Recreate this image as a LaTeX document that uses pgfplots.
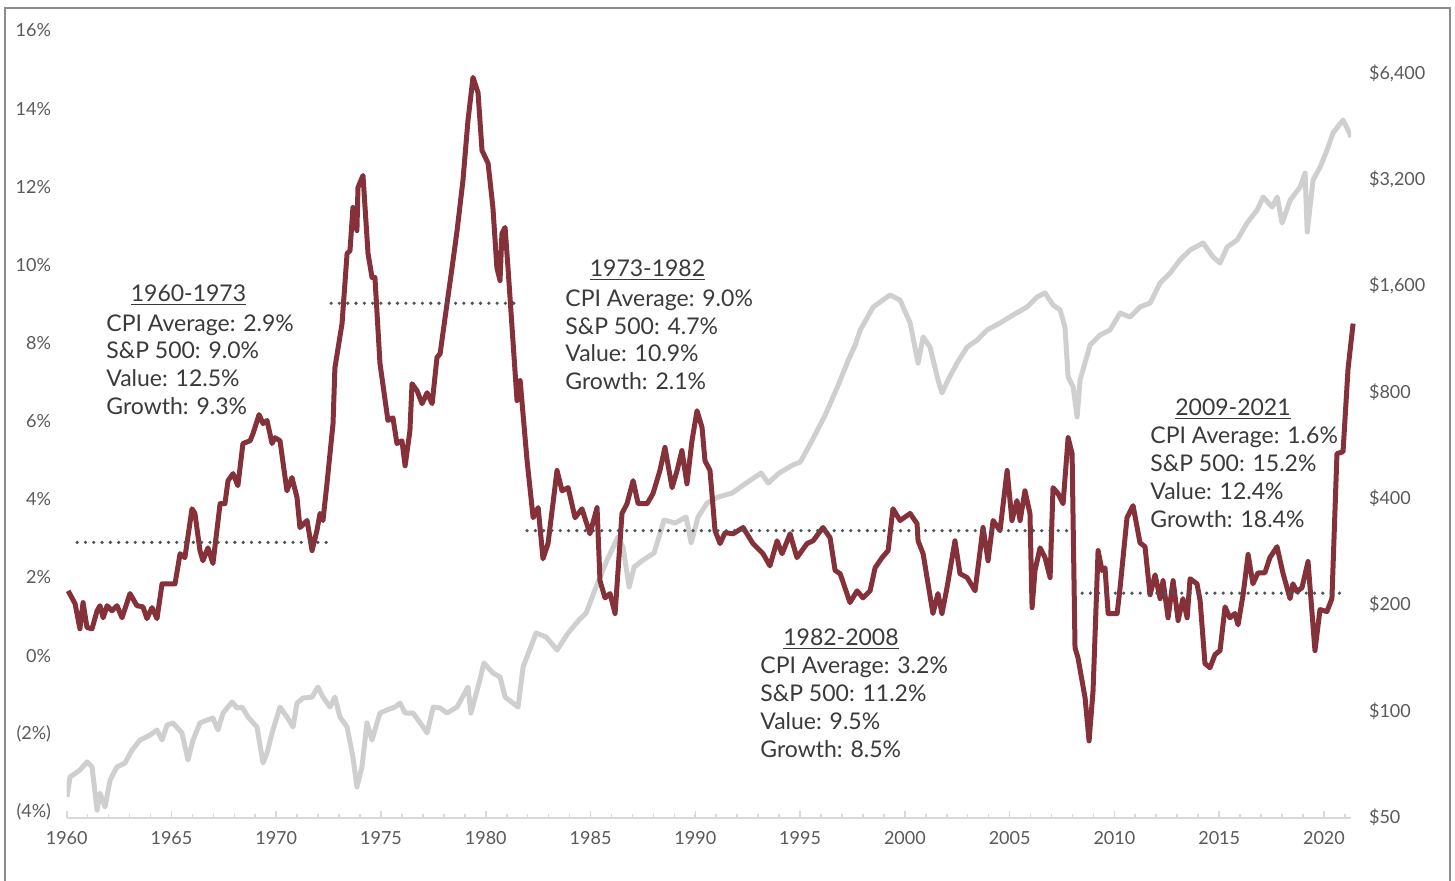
\documentclass[border=0pt]{standalone}
\usepackage{fontspec}
\setmainfont{Lato}
\usepackage{pgfplots}
\usepackage{pgfplotstable}
\pgfplotsset{compat=1.18}
\definecolor{cpired}{HTML}{84313A}
\definecolor{spgray}{HTML}{CFCFCF}
\definecolor{ticklab}{HTML}{595959}
\definecolor{axgray}{HTML}{D9D9D9}
\definecolor{annot}{HTML}{3A3A3A}
\definecolor{avgdot}{HTML}{4D535A}
\definecolor{frame}{HTML}{8C8C8C}

\pgfplotstableread{
x y
1960.07 1.66
1960.40 1.33
1960.63 0.69
1960.78 1.36
1960.97 0.72
1961.21 0.69
1961.45 1.15
1961.59 1.28
1961.74 0.97
1961.93 1.28
1962.16 1.15
1962.40 1.28
1962.64 0.97
1962.83 1.28
1963.02 1.59
1963.35 1.28
1963.64 1.25
1963.83 0.95
1964.07 1.23
1964.31 0.95
1964.55 1.84
1965.17 1.84
1965.41 2.61
1965.64 2.51
1965.98 3.76
1966.12 3.64
1966.36 2.69
1966.50 2.43
1966.74 2.76
1966.98 2.36
1967.32 3.89
1967.55 3.89
1967.70 4.48
1967.94 4.66
1968.17 4.35
1968.41 5.43
1968.75 5.50
1968.89 5.68
1969.18 6.17
1969.37 5.94
1969.56 6.02
1969.80 5.43
1969.94 5.58
1970.18 5.50
1970.51 4.22
1970.75 4.56
1970.99 4.05
1971.13 3.28
1971.47 3.46
1971.71 2.69
1971.94 3.20
1972.09 3.64
1972.23 3.46
1972.42 4.40
1972.71 5.94
1972.80 7.37
1973.14 8.50
1973.38 10.29
1973.52 10.37
1973.66 11.47
1973.85 10.88
1973.90 11.98
1974.14 12.29
1974.38 10.29
1974.57 9.68
1974.71 9.68
1974.95 7.48
1975.33 6.02
1975.57 6.09
1975.76 5.43
1976.00 5.50
1976.15 4.86
1976.38 5.76
1976.48 6.96
1976.72 6.78
1976.96 6.45
1977.20 6.73
1977.44 6.45
1977.67 7.63
1977.82 7.73
1978.15 9.01
1978.39 9.93
1978.63 10.88
1978.91 12.16
1979.15 13.70
1979.39 14.80
1979.63 14.41
1979.82 12.93
1980.11 12.60
1980.34 11.47
1980.53 9.93
1980.68 9.60
1980.77 10.80
1980.92 10.96
1981.06 9.93
1981.49 6.53
1981.64 7.04
1981.97 4.99
1982.26 3.53
1982.50 3.79
1982.73 2.48
1982.97 2.87
1983.40 4.74
1983.64 4.22
1983.93 4.30
1984.26 3.53
1984.59 3.76
1984.97 3.12
1985.31 3.79
1985.45 1.92
1985.69 1.48
1985.93 1.59
1986.17 1.08
1986.50 3.64
1986.74 3.89
1987.03 4.48
1987.27 3.89
1987.70 3.89
1987.98 4.15
1988.31 4.74
1988.55 5.33
1988.89 4.30
1989.13 4.74
1989.36 5.25
1989.60 4.40
1989.84 5.50
1990.08 6.27
1990.32 5.84
1990.46 4.99
1990.70 4.74
1990.94 3.20
1991.18 2.87
1991.42 3.15
1991.80 3.12
1992.28 3.28
1992.75 2.87
1993.23 2.61
1993.56 2.30
1993.90 2.94
1994.14 2.61
1994.52 3.12
1994.85 2.51
1995.33 2.87
1995.62 2.94
1996.09 3.28
1996.43 3.02
1996.67 2.18
1996.91 2.10
1997.38 1.36
1997.72 1.66
1998.00 1.48
1998.34 1.66
1998.58 2.25
1998.91 2.51
1999.20 2.69
1999.43 3.76
1999.77 3.46
2000.25 3.64
2000.58 3.38
2000.63 2.94
2000.87 2.61
2001.34 1.08
2001.58 1.59
2001.77 1.08
2002.01 1.74
2002.39 2.94
2002.63 2.10
2002.97 2.00
2003.35 1.66
2003.73 3.28
2003.97 2.43
2004.21 3.46
2004.54 3.20
2004.88 4.74
2005.11 3.46
2005.35 3.97
2005.50 3.46
2005.73 4.22
2005.97 3.64
2006.07 1.23
2006.21 2.18
2006.45 2.76
2006.69 2.51
2006.93 2.00
2007.07 4.30
2007.31 4.15
2007.55 3.89
2007.79 5.58
2007.98 5.17
2008.12 0.20
2008.26 -0.05
2008.60 -1.08
2008.79 -2.18
2008.98 -0.90
2009.22 2.69
2009.41 2.18
2009.55 2.25
2009.70 1.08
2010.13 1.08
2010.27 1.74
2010.60 3.53
2010.89 3.84
2011.22 2.89
2011.46 2.79
2011.70 1.56
2011.94 2.07
2012.18 1.46
2012.32 1.92
2012.56 0.97
2012.80 1.92
2013.04 0.90
2013.27 1.46
2013.47 0.97
2013.61 1.97
2013.94 1.84
2014.09 1.41
2014.32 -0.20
2014.56 -0.31
2014.80 0.03
2015.04 0.13
2015.28 1.25
2015.51 0.97
2015.75 1.08
2015.90 0.79
2016.14 1.56
2016.38 2.59
2016.61 1.84
2016.85 2.12
2017.18 2.12
2017.42 2.51
2017.76 2.79
2018.04 2.12
2018.38 1.46
2018.52 1.84
2018.71 1.64
2018.95 1.74
2019.24 2.41
2019.57 0.13
2019.81 1.18
2020.14 1.13
2020.38 1.46
2020.62 5.17
2020.91 5.22
2021.15 7.35
2021.39 8.50
}\cpidata

\pgfplotstableread{
x y
1960.01 57.0
1960.16 64.9
1960.63 67.9
1960.97 71.6
1961.21 69.3
1961.45 52.3
1961.59 58.4
1961.83 53.4
1962.07 63.6
1962.40 69.3
1962.78 71.1
1963.12 77.4
1963.50 82.6
1963.98 85.3
1964.31 88.2
1964.55 82.6
1964.79 91.1
1965.07 92.3
1965.50 86.5
1965.79 72.5
1966.03 82.6
1966.36 92.3
1966.70 94.1
1966.98 95.3
1967.22 88.2
1967.46 98.5
1967.89 105.8
1968.13 101.8
1968.37 102.4
1968.65 96.0
1969.08 89.9
1969.37 71.1
1969.56 75.9
1969.80 86.5
1970.18 102.4
1970.51 96.0
1970.80 89.9
1970.99 105.1
1971.28 108.6
1971.71 109.3
1971.99 116.7
1972.23 109.3
1972.57 102.4
1972.80 109.3
1973.04 96.0
1973.38 89.9
1973.66 73.9
1973.85 60.8
1974.09 69.3
1974.33 92.3
1974.57 82.6
1974.95 98.5
1975.29 100.5
1975.67 102.4
1975.91 105.1
1976.15 98.5
1976.53 98.5
1977.01 89.9
1977.20 86.5
1977.49 102.4
1977.82 101.8
1978.15 98.5
1978.63 102.4
1979.15 116.7
1979.29 98.5
1979.68 119.8
1979.91 136.5
1980.34 127.9
1980.68 124.6
1980.92 109.3
1981.54 102.4
1981.78 132.9
1982.40 166.0
1982.88 161.7
1983.40 148.5
1983.93 166.0
1984.45 180.7
1984.79 189.1
1985.26 224.1
1985.79 267.2
1986.31 310.4
1986.55 290.8
1986.84 224.1
1987.08 255.3
1987.51 267.2
1988.03 279.7
1988.51 346.8
1989.04 340.1
1989.56 353.6
1989.80 298.5
1990.13 353.6
1990.56 387.4
1991.09 402.8
1991.76 413.5
1992.43 441.4
1993.14 471.1
1993.48 441.4
1994.00 471.1
1994.67 497
1995.01 506
1995.58 584
1996.20 688
1996.82 836
1997.30 984
1997.63 1085
1997.87 1197
1998.49 1391
1999.29 1504
1999.77 1456
2000.25 1253
2000.63 965
2000.87 1144
2001.20 1071
2001.58 864
2001.77 794
2002.06 864
2002.49 965
2002.97 1071
2003.45 1121
2003.92 1197
2004.54 1253
2005.16 1320
2005.83 1391
2006.31 1485
2006.69 1524
2007.07 1409
2007.41 1364
2007.64 1221
2007.79 881
2008.03 826
2008.22 679
2008.36 864
2008.84 1085
2009.31 1158
2009.79 1197
2010.27 1337
2010.75 1303
2011.22 1391
2011.70 1427
2012.18 1627
2012.66 1737
2013.13 1890
2013.61 2017
2014.23 2111
2014.71 1927
2015.04 1853
2015.38 2057
2015.86 2153
2016.33 2405
2016.81 2618
2017.10 2850
2017.53 2669
2017.77 2850
2018.00 2405
2018.39 2794
2018.86 3041
2019.10 3332
2019.20 2268
2019.48 3182
2019.82 3466
2020.15 3872
2020.43 4326
2020.91 4708
2021.15 4411
2021.29 4214
}\spdata

\begin{document}
\begin{tikzpicture}
\useasboundingbox (0,0) rectangle (727.5pt,-440pt);
\begin{scope}
\clip (0,0) rectangle (727.5pt,-440pt);
\draw[frame, line width=1pt] (2.5pt,-4pt) rectangle (725pt,-460pt);
\end{scope}

% right log axis: S&P 500
\begin{axis}[
  at={(33.35pt,-409pt)}, anchor=south west,
  width=642.25pt, height=393.75pt, scale only axis,
  xmin=1960, xmax=2021.3,
  ymode=log, ymin=49.67, ymax=8440,
  axis line style={draw=none},
  xtick=\empty,
  ytick pos=right,
  ytick={50,100,200,400,800,1600,3200,6400},
  yticklabels={\$50,\$100,\$200,\$400,\$800,{\$1,600},{\$3,200},{\$6,400}},
  ytick style={draw=none},
  yticklabel style={anchor=west, xshift=5.4pt, font=\fontsize{9}{10}\selectfont, text=ticklab},
]
\addplot[spgray, line width=2.5pt, line join=round] table {\spdata};
\end{axis}

% left axis: CPI
\begin{axis}[
  at={(33.35pt,-409pt)}, anchor=south west,
  width=642.25pt, height=393.75pt, scale only axis,
  xmin=1960, xmax=2021.3,
  ymin=-4.154, ymax=16,
  clip=false,
  axis line style={draw=none},
  xtick pos=bottom, ytick pos=left, tick align=inside,
  xtick={1960,1965,...,2020},
  xticklabels={1960,1965,1970,1975,1980,1985,1990,1995,2000,2005,2010,2015,2020},
  minor xtick={1961,1962,...,2021},
  major tick length=3.5pt, minor tick length=2.2pt,
  xtick style={color=axgray, line width=0.8pt},
  ytick style={draw=none},
  ytick={-4,-2,...,16},
  yticklabels={(4\%),(2\%),0\%,2\%,4\%,6\%,8\%,10\%,12\%,14\%,16\%},
  yticklabel style={anchor=east, xshift=-4.3pt, font=\fontsize{9}{10}\selectfont, text=ticklab},
  xticklabel style={yshift=-3pt, font=\fontsize{9}{10}\selectfont, text=ticklab},
]
\draw[axgray, line width=0.8pt] (rel axis cs:0,0) -- (rel axis cs:1,0);
\addplot[cpired, line width=2.5pt, line join=round] table {\cpidata};
\addplot[avgdot, line width=1.8pt, line cap=round, dash pattern=on 0pt off 4.15pt] coordinates {(1960.5,2.9) (1972.4,2.9)};
\addplot[avgdot, line width=1.8pt, line cap=round, dash pattern=on 0pt off 4.15pt] coordinates {(1972.62,9.02) (1981.73,9.02)};
\addplot[avgdot, line width=1.8pt, line cap=round, dash pattern=on 0pt off 4.15pt] coordinates {(1981.97,3.2) (2007.85,3.2)};
\addplot[avgdot, line width=1.8pt, line cap=round, dash pattern=on 0pt off 4.15pt] coordinates {(2008.46,1.6) (2020.75,1.6)};
\end{axis}

\begin{scope}[x=0.5pt, y=-0.5pt, every node/.style={text=annot, font=\fontsize{11.5}{13}\selectfont, inner sep=0pt}]
\node[anchor=base] at (188.5,301.7) {\underline{1960-1973}};
\node[anchor=base west] at (106,331) {CPI Average: 2.9\%};
\node[anchor=base west] at (106,358.5) {S\&P 500: 9.0\%};
\node[anchor=base west] at (106,386.5) {Value: 12.5\%};
\node[anchor=base west] at (106,414) {Growth: 9.3\%};

\node[anchor=base] at (647.5,276.7) {\underline{1973-1982}};
\node[anchor=base west] at (565,306.5) {CPI Average: 9.0\%};
\node[anchor=base west] at (565,334) {S\&P 500: 4.7\%};
\node[anchor=base west] at (565,361.5) {Value: 10.9\%};
\node[anchor=base west] at (565,389) {Growth: 2.1\%};

\node[anchor=base] at (841,645) {\underline{1982-2008}};
\node[anchor=base west] at (760,673) {CPI Average: 3.2\%};
\node[anchor=base west] at (760,701) {S\&P 500: 11.2\%};
\node[anchor=base west] at (760,729) {Value: 9.5\%};
\node[anchor=base west] at (760,757) {Growth: 8.5\%};

\node[anchor=base] at (1233,415) {\underline{2009-2021}};
\node[anchor=base west] at (1150,443) {CPI Average: 1.6\%};
\node[anchor=base west] at (1150,471) {S\&P 500: 15.2\%};
\node[anchor=base west] at (1150,499) {Value: 12.4\%};
\node[anchor=base west] at (1150,527) {Growth: 18.4\%};
\end{scope}
\end{tikzpicture}
\end{document}
